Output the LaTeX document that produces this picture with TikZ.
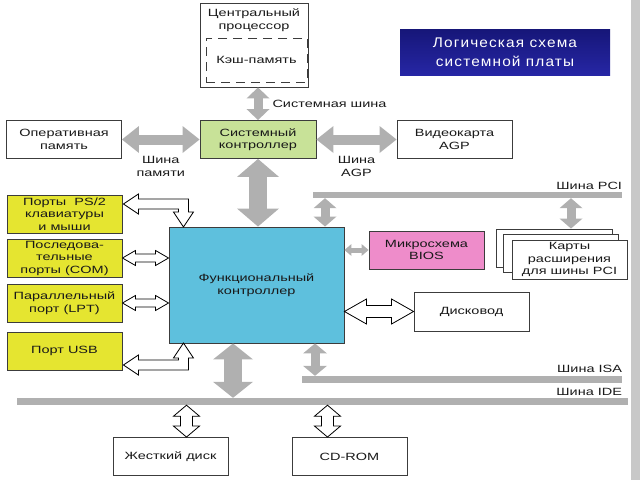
\documentclass[tikz,border=0pt]{standalone}
\usepackage{fontspec}
\setmainfont{Liberation Sans}[FakeStretch=1.38]
\newfontfamily\titlefont{Liberation Sans}[FakeStretch=1.1,LetterSpace=8]
\usetikzlibrary{arrows.meta,positioning,calc}
\definecolor{boxgray}{RGB}{60,60,60}
\definecolor{txtgray}{RGB}{25,25,25}
\definecolor{busgray}{RGB}{176,176,176}
\definecolor{edgegray}{RGB}{200,200,200}
\definecolor{ctlgreen}{RGB}{200,226,152}
\definecolor{funcblue}{RGB}{94,192,221}
\definecolor{portyellow}{RGB}{229,229,48}
\definecolor{biospink}{RGB}{238,140,202}
\definecolor{titletop}{RGB}{22,22,120}
\definecolor{titlebot}{RGB}{38,38,165}

\begin{document}
\begin{tikzpicture}[x=1pt, y=-1pt,
    txt/.style={text=txtgray, align=center, font=\fontsize{10.5}{12.5}\selectfont},
    blk/.style={txt, draw=boxgray, line width=.9pt, fill=white, minimum width=115pt, minimum height=38pt, inner sep=0pt},
    port/.style={blk, fill=portyellow},
    bar/.style={fill=busgray, inner sep=0pt},
    buslbl/.style={txt, inner sep=0pt},
    gbus/.style n args={3}{draw=busgray, line width=#1,
      arrows={Triangle[width=#2,length=#3,line width=0pt]-Triangle[width=#2,length=#3,line width=0pt]}},
    hollowline/.style={draw=black, fill=white, line width=.8pt},
    hollowh/.style n args={3}{hollowline, to path={let \p1=(\tikztostart), \p2=(\tikztotarget) in
      (\p1) -- ({\x1+#1},{\y1+#2}) -- ({\x1+#1},{\y1+#3}) -- ({\x2-#1},{\y1+#3}) -- ({\x2-#1},{\y1+#2})
      -- (\x2,\y1) -- ({\x2-#1},{\y1-#2}) -- ({\x2-#1},{\y1-#3}) -- ({\x1+#1},{\y1-#3}) -- ({\x1+#1},{\y1-#2}) -- cycle}},
    hollowv/.style n args={3}{hollowline, to path={let \p1=(\tikztostart), \p2=(\tikztotarget) in
      (\p1) -- ({\x1+#2},{\y1-#1}) -- ({\x1+#3},{\y1-#1}) -- ({\x1+#3},{\y2+#1}) -- ({\x1+#2},{\y2+#1})
      -- (\x1,\y2) -- ({\x1-#2},{\y2+#1}) -- ({\x1-#3},{\y2+#1}) -- ({\x1-#3},{\y1-#1}) -- ({\x1-#2},{\y1-#1}) -- cycle}}]
  \useasboundingbox (0,0) rectangle (640,480);
  \fill[edgegray] (631,0) rectangle (640,480);

  \node[blk, minimum width=108pt, minimum height=84pt] (cpu) at (254,45) {};
  \node[txt, anchor=north, inner sep=0pt] (cputxt) at ($(cpu.north)+(0,6)$) {Центральный\\процессор};
  \node[blk, fill=none, dash pattern=on 9pt off 6pt, minimum width=101pt, minimum height=44pt] (cache) at (256.5,60) {Кэш-память};
  \node[blk, draw=none, text=white, font=\titlefont\fontsize{14}{19}\selectfont, top color=titletop, bottom color=titlebot,
    minimum width=210pt, minimum height=46pt] (title) at (505,52) {Логическая схема\\системной платы};

  \node[blk] (ram) at (64,139.5) {Оперативная\\память};
  \node[blk, fill=ctlgreen, minimum width=116pt] (sysctl) at (258,139.5) {Системный\\контроллер};
  \node[blk] (video) at (454.5,139.5) {Видеокарта\\AGP};
  \node[blk, fill=funcblue, minimum width=175pt, minimum height=116pt] (func) at (256.5,285) {Функциональный\\контроллер};

  \node[port] (ps2) at (64.5,214) {Порты\ \ PS/2\\клавиатуры\\и мыши};
  \node[port] (com) at (64.5,258) {Последова-\\тельные\\порты (COM)};
  \node[port] (lpt) at (64.5,303) {Параллельный\\порт (LPT)};
  \node[port] (usb) at (64.5,351) {Порт USB};

  \node[blk, fill=biospink] (bios) at (426.5,250) {Микросхема\\BIOS};
  \node[blk, minimum width=116pt] (cards1) at (554,248) {};
  \node[blk] (cards2) at (561,253.5) {};
  \node[blk, minimum height=39pt] (cards3) at (569.5,259.5) {Карты\\расширения\\для шины PCI};
  \node[blk, minimum height=39pt] (drive) at (471.5,311.5) {Дисковод};
  \node[blk] (hdd) at (170.5,456.5) {Жесткий диск};
  \node[blk] (cdrom) at (349.5,456.5) {CD-ROM};

  \node[bar, minimum width=309pt, minimum height=6pt] (pci) at (467.5,195) {};
  \node[bar, minimum width=320pt, minimum height=7pt] (isa) at (462,379.5) {};
  \node[bar, minimum width=611pt, minimum height=7pt] (ide) at (322.5,401.5) {};
  \node[buslbl, anchor=base east] (pcilbl) at ($(pci.north east)+(0,-2)$) {Шина PCI};
  \node[buslbl, anchor=base east] (isalbl) at ($(isa.north east)+(0,-3)$) {Шина ISA};
  \node[buslbl, anchor=base east] (idelbl) at ($(ide.north east)+(-6,-2)$) {Шина IDE};

  \coordinate (pcitap) at (325,0);
  \coordinate (cardtap) at ($(cards1.north)+(17,0)$);
  \coordinate (isatap) at (315,0);
  \coordinate (idetap) at (233,0);
  \coordinate (hddtap) at ($(hdd.north)+(16,0)$);
  \coordinate (cdtap) at ($(cdrom.north)+(-22,0)$);

  \draw[gbus={9pt}{23pt}{11pt}] (cpu.south -| sysctl.north) -- (sysctl.north)
    node[buslbl, midway, right=10pt] {Системная шина};
  \draw[gbus={10pt}{27pt}{17pt}] (ram.east) -- (sysctl.west) node[buslbl, midway, below=12pt] {Шина\\памяти};
  \draw[gbus={10pt}{27pt}{17pt}] (sysctl.east) -- (video.west) node[buslbl, midway, below=12pt] {Шина\\AGP};
  \draw[gbus={18pt}{42pt}{18pt}] (sysctl.south) -- (sysctl.south |- func.north);
  \draw[gbus={9pt}{23pt}{10pt}] (pci.south -| pcitap) -- (func.north -| pcitap);
  \draw[gbus={9pt}{23pt}{10pt}] (pci.south -| cardtap) -- (cardtap);
  \draw[gbus={5pt}{12pt}{7pt}] (func.east |- bios.west) -- (bios.west);
  \draw[gbus={9pt}{24pt}{10pt}] (func.south -| isatap) -- (isa.north -| isatap);
  \draw[gbus={18pt}{40pt}{16pt}] (func.south -| idetap) -- (ide.north -| idetap);

  \draw[hollowh={13pt}{7.5pt}{4pt}] (com.east) to (com.east -| func.west);
  \draw[hollowh={13pt}{7.5pt}{4pt}] (lpt.east) to (lpt.east -| func.west);
  \draw[hollowh={22pt}{12.5pt}{6pt}] (func.east |- drive.west) to (drive.west);
  \draw[hollowv={11pt}{13pt}{6pt}] (hddtap |- ide.south) to (hddtap);
  \draw[hollowv={11pt}{13pt}{6pt}] (cdtap |- ide.south) to (cdtap);
  \draw[hollowline] ($(ps2.east)+(1,-10)$) -- ++(15,-10) -- ++(0,5) -- ++(50,0) -- ++(0,13) -- ++(5,0)
    -- ++(-10,15) -- ++(-10,-15) -- ++(5,0) -- ++(0,-3) -- ++(-40,0) -- ++(0,5) -- cycle;
  \draw[hollowline] ($(usb.east)+(1,14)$) -- ++(15,-10) -- ++(0,5) -- ++(40,0) -- ++(0,-2) -- ++(-5,0)
    -- ++(10,-15) -- ++(10,15) -- ++(-5,0) -- ++(0,12) -- ++(-50,0) -- ++(0,5) -- cycle;
\end{tikzpicture}
\end{document}
